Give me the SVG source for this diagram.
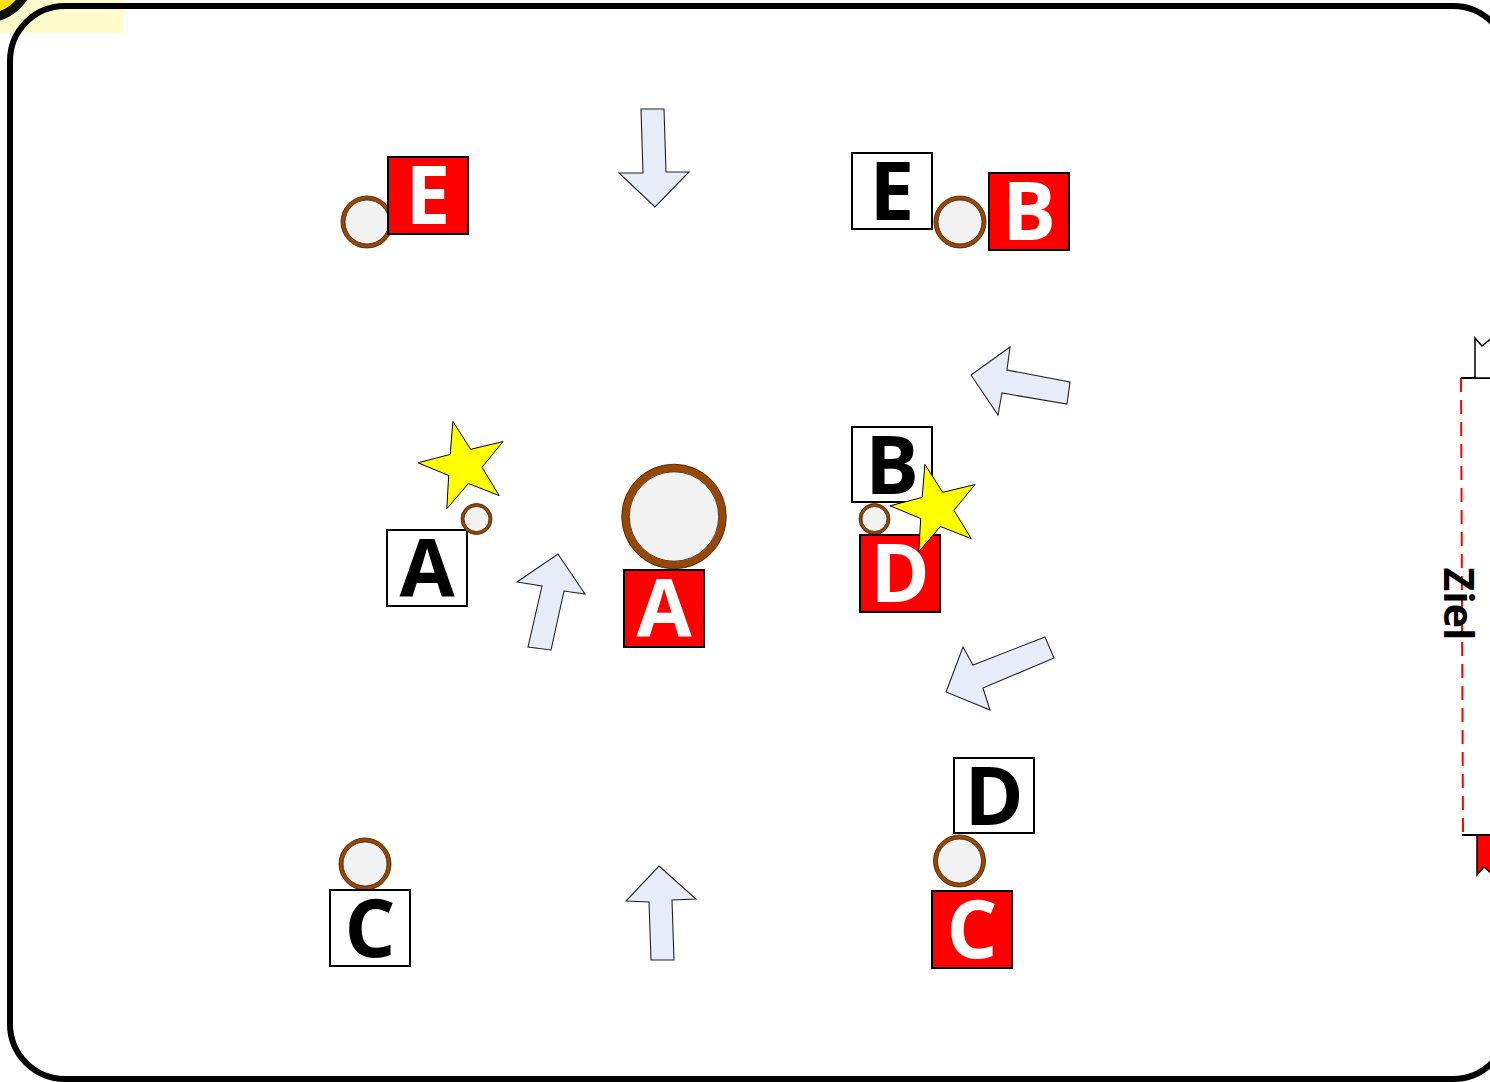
<svg xmlns="http://www.w3.org/2000/svg" width="1490" height="1082" viewBox="0 0 1490 1082">
<style>
.wbox{fill:#FFFFFF;stroke:#000;stroke-width:2}
.rbox{fill:#FF0000;stroke:#000;stroke-width:2}
.lblk{font-family:"Open Sans","Liberation Sans",sans-serif;font-weight:700;font-size:80px;fill:#000;text-anchor:middle}
.lwht{font-family:"Open Sans","Liberation Sans",sans-serif;font-weight:700;font-size:80px;fill:#FFF;text-anchor:middle}
.cone{fill:#F2F2F2;stroke:#974806;stroke-width:4}
.cone-s{fill:#F2F2F2;stroke:#974806;stroke-width:3}
.cone-b{fill:#F2F2F2;stroke:#974806;stroke-width:7.5}
.edge{fill:none;stroke:#3a1a00;stroke-width:0.8}
.star{fill:#FFFF00;stroke:#000;stroke-width:1}
.arrow{fill:#E6EDF8;stroke:#222;stroke-width:1.1;stroke-linejoin:miter}
</style>
<defs>
<path id="starShape" d="M-11.1,-44.6 L6.7,-16.7 L39,-24.4 L18,1.3 L35.2,29.6 L4.4,17.5 L-17.2,42.7 L-15.3,9.5 L-45.9,-3.2 L-13.8,-11.6 Z"/>
</defs>
<rect x="0" y="0" width="1490" height="1082" fill="#FFFFFF"/>
<rect x="0" y="0" width="123" height="33" fill="#FFFBCC"/>
<rect id="field" x="10" y="6" width="1498" height="1073" rx="55" ry="55" fill="none" stroke="#000" stroke-width="6"/>
<circle cx="-14" cy="-26" r="44" fill="#FFE01A" stroke="#111" stroke-width="9"/>

<g id="goal">
<line x1="1461" y1="378" x2="1463" y2="835" stroke="#FF0000" stroke-width="2" stroke-dasharray="14,8"/>
<line x1="1461" y1="378" x2="1492" y2="378" stroke="#000" stroke-width="2"/>
<line x1="1462" y1="835" x2="1492" y2="835" stroke="#000" stroke-width="2"/>
<polygon points="1475,378 1475,338 1482,346 1493,337 1493,378" fill="#FFFFFF" stroke="#000" stroke-width="1.5"/>
<polygon points="1477,835 1477,875 1484,867 1493,875 1493,835" fill="#FF0000" stroke="#000" stroke-width="1.5"/>
<text transform="translate(1444,604) rotate(90)" font-family="'Open Sans','Liberation Sans',sans-serif" font-weight="700" font-size="41" text-anchor="middle" fill="#000">Ziel</text>
</g>

<g id="connectors">
<polygon class="arrow" points="641,109 664,109 666,172 689,172 655,207 619,173 643,173"/>
<polygon class="arrow" points="659,866 696,899 672,900 674,960 651,960 649,902 626,901"/>
<polygon class="arrow" points="558,554 585,594 564,591 551,650 528,647 542,586 517,582"/>
<polygon class="arrow" points="971,375 1010,347 1007,370 1070,382 1067,404 1002,393 998,415"/>
<polygon class="arrow" points="946,692 963,647 973,665 1045,637 1054,658 983,688 990,710"/>
</g>

<g id="node-red-E">
<circle class="cone" cx="367" cy="222" r="24"/>
<circle class="edge" cx="367" cy="222" r="26"/>
<circle class="edge" cx="367" cy="222" r="22"/>
<rect class="rbox" x="388" y="157" width="80" height="77"/>
<text class="lwht" x="428" y="224">E</text>
</g>

<g id="node-white-E">
<rect class="wbox" x="852" y="153" width="80" height="76"/>
<text class="lblk" x="892" y="220">E</text>
</g>

<g id="node-cone-top">
<circle class="cone" cx="960" cy="222" r="24"/>
<circle class="edge" cx="960" cy="222" r="26"/>
<circle class="edge" cx="960" cy="222" r="22"/>
</g>

<g id="node-red-B">
<rect class="rbox" x="989" y="173" width="80" height="77"/>
<text class="lwht" x="1029" y="240">B</text>
</g>

<g id="node-white-A">
<rect class="wbox" x="387" y="530" width="80" height="76"/>
<text class="lblk" x="427" y="597">A</text>
</g>

<g id="node-cone-A">
<circle class="cone-s" cx="476.5" cy="519" r="14"/>
<circle class="edge" cx="476.5" cy="519" r="15.5"/>
<circle class="edge" cx="476.5" cy="519" r="12.5"/>
</g>

<g id="node-star-1">
<use href="#starShape" class="star" transform="translate(464,466)"/>
</g>

<g id="node-big-cone">
<circle class="cone-b" cx="674" cy="516.5" r="48.5"/>
<circle class="edge" cx="674" cy="516.5" r="52.3"/>
<circle class="edge" cx="674" cy="516.5" r="44.7"/>
</g>

<g id="node-red-A">
<rect class="rbox" x="624" y="570" width="80" height="77"/>
<text class="lwht" x="664" y="637">A</text>
</g>

<g id="node-white-B">
<rect class="wbox" x="852" y="427" width="80" height="75"/>
<text class="lblk" x="892" y="494">B</text>
</g>

<g id="node-cone-BD">
<circle class="cone-s" cx="874.5" cy="519" r="14"/>
<circle class="edge" cx="874.5" cy="519" r="15.5"/>
<circle class="edge" cx="874.5" cy="519" r="12.5"/>
</g>

<g id="node-red-D">
<rect class="rbox" x="860" y="535" width="80" height="77"/>
<text class="lwht" x="900" y="602">D</text>
</g>

<g id="node-star-2">
<use href="#starShape" class="star" transform="translate(936,509)"/>
</g>

<g id="node-white-C">
<circle class="cone" cx="365" cy="864" r="24"/>
<circle class="edge" cx="365" cy="864" r="26"/>
<circle class="edge" cx="365" cy="864" r="22"/>
<rect class="wbox" x="330" y="890" width="80" height="76"/>
<text class="lblk" x="370" y="957">C</text>
</g>

<g id="node-white-D">
<rect class="wbox" x="954" y="758" width="80" height="75"/>
<text class="lblk" x="994" y="825">D</text>
</g>

<g id="node-red-C">
<circle class="cone" cx="959.5" cy="861" r="24"/>
<circle class="edge" cx="959.5" cy="861" r="26"/>
<circle class="edge" cx="959.5" cy="861" r="22"/>
<rect class="rbox" x="932" y="891" width="80" height="77"/>
<text class="lwht" x="972" y="958">C</text>
</g>
</svg>
